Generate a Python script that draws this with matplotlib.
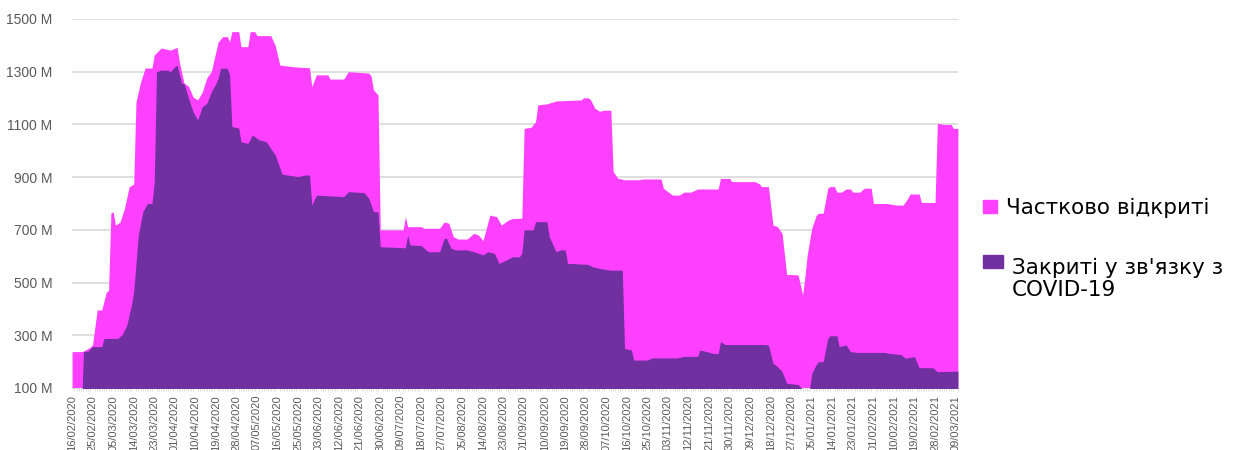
import pandas as pd
import matplotlib
matplotlib.use('Agg')
import matplotlib.pyplot as plt
from matplotlib.patches import Rectangle

plt.rcParams['font.family'] = ['Liberation Sans', 'DejaVu Sans']

# дані (млн), зчитані з графіка
# верх рожевої області = закриті + частково відкриті
total_dates = [
    '2020-02-16', '2020-02-20', '2020-02-21', '2020-02-24', '2020-02-25', '2020-02-27', '2020-02-29',
    '2020-03-01', '2020-03-02', '2020-03-03', '2020-03-04', '2020-03-05', '2020-03-06', '2020-03-08',
    '2020-03-10', '2020-03-12', '2020-03-14', '2020-03-15', '2020-03-17', '2020-03-19', '2020-03-22',
    '2020-03-23', '2020-03-26', '2020-03-30', '2020-04-02', '2020-04-03', '2020-04-05', '2020-04-07',
    '2020-04-09', '2020-04-11', '2020-04-13', '2020-04-15', '2020-04-17', '2020-04-20', '2020-04-22',
    '2020-04-24', '2020-04-25', '2020-04-26', '2020-04-29', '2020-04-30', '2020-05-03', '2020-05-04',
    '2020-05-06', '2020-05-07', '2020-05-13', '2020-05-15', '2020-05-17', '2020-05-24', '2020-05-30',
    '2020-05-31', '2020-06-02', '2020-06-07', '2020-06-08', '2020-06-14', '2020-06-16', '2020-06-25',
    '2020-06-26', '2020-06-27', '2020-06-29', '2020-06-30', '2020-07-10', '2020-07-11', '2020-07-12',
    '2020-07-18', '2020-07-19', '2020-07-26', '2020-07-28', '2020-07-30', '2020-08-01', '2020-08-03',
    '2020-08-07', '2020-08-10', '2020-08-12', '2020-08-14', '2020-08-17', '2020-08-20', '2020-08-22',
    '2020-08-25', '2020-08-27', '2020-08-31', '2020-09-01', '2020-09-04', '2020-09-06', '2020-09-07',
    '2020-09-11', '2020-09-15', '2020-09-26', '2020-09-27', '2020-09-29', '2020-09-30', '2020-10-02',
    '2020-10-04', '2020-10-06', '2020-10-09', '2020-10-10', '2020-10-12', '2020-10-15', '2020-10-21',
    '2020-10-23', '2020-10-31', '2020-11-01', '2020-11-02', '2020-11-05', '2020-11-08', '2020-11-10',
    '2020-11-13', '2020-11-16', '2020-11-25', '2020-11-26', '2020-11-30', '2020-12-01', '2020-12-11',
    '2020-12-13', '2020-12-14', '2020-12-17', '2020-12-19', '2020-12-21', '2020-12-23', '2020-12-25',
    '2020-12-30', '2021-01-01', '2021-01-02', '2021-01-03', '2021-01-05', '2021-01-07', '2021-01-08',
    '2021-01-10', '2021-01-12', '2021-01-13', '2021-01-15', '2021-01-16', '2021-01-18', '2021-01-20',
    '2021-01-22', '2021-01-23', '2021-01-26', '2021-01-28', '2021-01-31', '2021-02-01', '2021-02-07',
    '2021-02-09', '2021-02-11', '2021-02-14', '2021-02-16', '2021-02-17', '2021-02-21', '2021-02-22',
    '2021-02-28', '2021-03-01', '2021-03-04', '2021-03-07', '2021-03-08', '2021-03-10',
]
total_values = [
    238, 238, 240, 255, 265, 396, 396,
    430, 464, 470, 764, 768, 718, 729,
    783, 863, 874, 1185, 1260, 1314, 1314,
    1363, 1390, 1382, 1392, 1337, 1257, 1245,
    1204, 1193, 1222, 1276, 1301, 1413, 1433,
    1433, 1413, 1452, 1452, 1395, 1395, 1452,
    1452, 1437, 1437, 1399, 1325, 1318, 1315,
    1243, 1288, 1288, 1272, 1272, 1300, 1295,
    1283, 1231, 1212, 700, 700, 750, 712,
    712, 706, 706, 730, 725, 674, 665,
    665, 687, 680, 659, 756, 750, 718,
    737, 743, 744, 1085, 1089, 1110, 1174,
    1178, 1189, 1193, 1201, 1201, 1195, 1161,
    1150, 1154, 1154, 921, 896, 890, 890,
    893, 893, 858, 851, 832, 832, 843,
    843, 855, 855, 895, 895, 883, 883,
    875, 864, 864, 718, 712, 686, 531,
    529, 453, 522, 605, 707, 756, 763,
    763, 858, 864, 864, 843, 843, 855,
    855, 843, 843, 858, 858, 800, 800,
    797, 794, 794, 819, 836, 836, 804,
    804, 1104, 1100, 1100, 1085, 1085,
]

# закриті у зв'язку з COVID-19
closed_dates = [
    '2020-02-16', '2020-02-20', '2020-02-21', '2020-02-23', '2020-02-25', '2020-02-29', '2020-03-01',
    '2020-03-07', '2020-03-09', '2020-03-11', '2020-03-13', '2020-03-14', '2020-03-16', '2020-03-18',
    '2020-03-20', '2020-03-22', '2020-03-23', '2020-03-24', '2020-03-26', '2020-03-29', '2020-03-30',
    '2020-04-01', '2020-04-02', '2020-04-04', '2020-04-05', '2020-04-07', '2020-04-09', '2020-04-11',
    '2020-04-13', '2020-04-15', '2020-04-17', '2020-04-19', '2020-04-20', '2020-04-21', '2020-04-24',
    '2020-04-25', '2020-04-26', '2020-04-29', '2020-04-30', '2020-05-03', '2020-05-05', '2020-05-08',
    '2020-05-11', '2020-05-13', '2020-05-15', '2020-05-18', '2020-05-25', '2020-05-28', '2020-05-30',
    '2020-05-31', '2020-06-02', '2020-06-14', '2020-06-16', '2020-06-23', '2020-06-25', '2020-06-27',
    '2020-06-29', '2020-06-30', '2020-07-11', '2020-07-12', '2020-07-13', '2020-07-18', '2020-07-21',
    '2020-07-26', '2020-07-28', '2020-07-29', '2020-07-31', '2020-08-02', '2020-08-07', '2020-08-10',
    '2020-08-14', '2020-08-16', '2020-08-19', '2020-08-21', '2020-08-24', '2020-08-27', '2020-08-30',
    '2020-08-31', '2020-09-01', '2020-09-05', '2020-09-06', '2020-09-11', '2020-09-12', '2020-09-15',
    '2020-09-17', '2020-09-19', '2020-09-20', '2020-09-29', '2020-10-01', '2020-10-05', '2020-10-09',
    '2020-10-14', '2020-10-15', '2020-10-18', '2020-10-19', '2020-10-25', '2020-10-27', '2020-11-07',
    '2020-11-10', '2020-11-16', '2020-11-17', '2020-11-20', '2020-11-23', '2020-11-25', '2020-11-26',
    '2020-11-28', '2020-12-15', '2020-12-17', '2020-12-19', '2020-12-21', '2020-12-23', '2020-12-25',
    '2020-12-30', '2021-01-01', '2021-01-04', '2021-01-05', '2021-01-07', '2021-01-08', '2021-01-10',
    '2021-01-12', '2021-01-13', '2021-01-16', '2021-01-17', '2021-01-20', '2021-01-22', '2021-01-25',
    '2021-02-06', '2021-02-08', '2021-02-13', '2021-02-15', '2021-02-19', '2021-02-21', '2021-02-27',
    '2021-03-01', '2021-03-10',
]
closed_values = [
    0, 0, 238, 240, 257, 257, 288,
    288, 303, 339, 415, 465, 680, 769,
    800, 800, 883, 1300, 1306, 1306, 1300,
    1319, 1325, 1256, 1256, 1200, 1148, 1117,
    1167, 1180, 1224, 1255, 1275, 1313, 1313,
    1288, 1092, 1086, 1034, 1028, 1060, 1041,
    1035, 1009, 984, 911, 902, 908, 908,
    794, 832, 826, 845, 841, 819, 769,
    769, 636, 632, 680, 643, 640, 617,
    617, 668, 668, 630, 624, 624, 617,
    605, 617, 611, 573, 585, 598, 598,
    611, 700, 700, 731, 731, 674, 617,
    624, 624, 573, 569, 560, 552, 547,
    547, 250, 244, 206, 206, 214, 214,
    220, 220, 244, 238, 231, 230, 276,
    265, 265, 263, 194, 181, 162, 118,
    113, 95, 95, 156, 190, 200, 200,
    288, 298, 298, 257, 263, 238, 235,
    235, 231, 227, 213, 219, 177, 177,
    162, 164,
]

y_ticks = [100, 300, 500, 700, 900, 1100, 1300, 1500]
legend_labels = ['Частково відкриті', "Закриті у зв'язку з\nCOVID-19"]

PINK = '#FF40FF'
PURPLE = '#7030A0'
GREY_TXT = '#595959'

total_x = pd.to_datetime(total_dates)
closed_x = pd.to_datetime(closed_dates)

fig = plt.figure(figsize=(12.36, 4.5), dpi=100)
ax = fig.add_axes([0.0583, 0.1378, 0.7167, 0.82])

ax.fill_between(total_x, 0, total_values, color=PINK, linewidth=0, zorder=2)
ax.fill_between(closed_x, 0, closed_values, color=PURPLE, linewidth=0, zorder=3)

ax.set_ylim(100, 1500)
ax.set_yticks(y_ticks)
ax.set_yticklabels([f'{v} M' for v in y_ticks])
ax.grid(axis='y', color='#D9D9D9', linewidth=1.2, zorder=0)
ax.set_axisbelow(True)

start = pd.Timestamp('2020-02-16')
end = pd.Timestamp('2021-03-10')
ax.set_xlim(start, end)
xt = pd.date_range(start, '2021-03-09', freq='9D')
ax.set_xticks(xt)
ax.set_xticklabels([d.strftime('%d/%m/%Y') for d in xt], rotation=90)
ax.set_xticks(pd.date_range(start, end, freq='D'), minor=True)

ax.tick_params(axis='y', length=0, labelsize=10, labelcolor=GREY_TXT, pad=14)
ax.tick_params(axis='x', which='major', length=0, labelsize=8, labelcolor=GREY_TXT, pad=5)
ax.tick_params(axis='x', which='minor', length=2, color='#D9D9D9')
for s in ['top', 'right', 'left']:
    ax.spines[s].set_visible(False)
ax.spines['bottom'].set_color('#D9D9D9')

# легенда праворуч
leg_font = ['DejaVu Sans']
fig.add_artist(Rectangle((983 / 1236, 1 - 213 / 450), 14 / 1236, 13 / 450,
                         transform=fig.transFigure, color=PINK))
fig.text(1006 / 1236, 1 - 208 / 450, legend_labels[0], fontsize=15.5, va='center',
         color='black', family=leg_font)
fig.add_artist(Rectangle((983 / 1236, 1 - 268 / 450), 20 / 1236, 13 / 450,
                         transform=fig.transFigure, color=PURPLE))
fig.text(1012 / 1236, 1 - 279 / 450, legend_labels[1], fontsize=15.5, va='center',
         color='black', linespacing=1.15, family=leg_font)

plt.savefig('out.png', dpi=100, facecolor='white')
plt.close()
